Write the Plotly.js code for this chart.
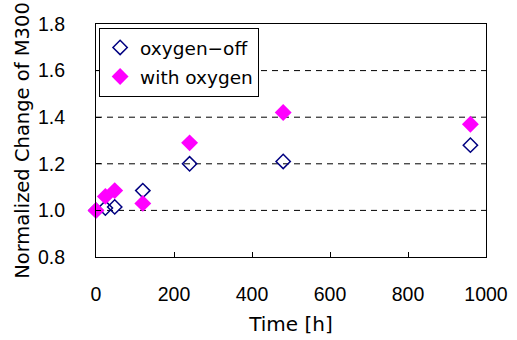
<!DOCTYPE html>
<html><head><meta charset="utf-8">
<script src="https://cdn.plot.ly/plotly-3.0.1.min.js"></script>
<style>html,body{margin:0;padding:0;background:#fff}</style>
</head><body>
<div id="chart" style="width:517px;height:340px"></div>
<script>
var timeHours = [0, 24, 48, 120, 240, 480, 960];
var oxygenOff = [1.00, 1.01, 1.015, 1.085, 1.20, 1.21, 1.28];
var withOxygen = [1.00, 1.06, 1.085, 1.03, 1.29, 1.42, 1.37];
var seriesNames = ['oxygen\u2212off', 'with oxygen'];
var xTicks = [0, 200, 400, 600, 800, 1000];
var yTicks = [0.8, 1.0, 1.2, 1.4, 1.6, 1.8];

var font = 'DejaVu Sans, sans-serif';
var tickFont = {family: 'Liberation Sans, Arial, sans-serif', size: 19.5, color: '#000'};
var traces = [
  {x: timeHours, y: oxygenOff, name: seriesNames[0], legendgroup: 'a', mode: 'markers', type: 'scatter', cliponaxis: false,
   marker: {symbol: 'diamond-open', size: 11, color: '#000080', line: {width: 1.5, color: '#000080'}}},
  {x: timeHours, y: withOxygen, name: seriesNames[1], legendgroup: 'b', mode: 'markers', type: 'scatter', cliponaxis: false,
   marker: {symbol: 'diamond', size: 13, color: '#ff00ff', line: {width: 0}}}
];
var gridShapes = [1.0, 1.2, 1.4, 1.6].map(function(v){
  return {type:'line', xref:'paper', x0:0, x1:1, yref:'y', y0:v, y1:v, layer:'below',
          line:{color:'#000', width:1, dash:'6px,5px'}};
});
var layout = {
  width: 517, height: 340,
  margin: {l: 96, r: 31, t: 24, b: 83},
  paper_bgcolor: '#fff', plot_bgcolor: '#fff',
  font: {family: font, size: 19, color: '#000'},
  showlegend: true,
  legend: {x: 0.008, y: 0.983, xanchor: 'left', yanchor: 'top', bgcolor: '#fff',
           bordercolor: '#000', borderwidth: 1, font: {size: 18.5}, itemwidth: 30,
           traceorder: 'grouped', tracegroupgap: 2},
  xaxis: {range: [0, 1000], tickvals: xTicks, ticktext: xTicks.map(String), showgrid: false, zeroline: false,
          showline: true, mirror: true, linecolor: '#000', linewidth: 1,
          ticks: 'inside', ticklen: 5, tickcolor: '#000', ticklabelstandoff: 20,
          tickfont: tickFont,
          title: {text: 'Time [h]', font: {size: 20}, standoff: 12}},
  yaxis: {range: [0.8, 1.8], tickvals: yTicks, ticktext: yTicks.map(function(v){return v.toFixed(1);}),
          showgrid: false, zeroline: false, showline: true, mirror: true, linecolor: '#000', linewidth: 1,
          ticks: 'inside', ticklen: 5, tickcolor: '#000', ticklabelstandoff: 26,
          tickfont: tickFont,
          title: {text: 'Normalized Change of M300', font: {size: 19.5}, standoff: 3}},
  shapes: gridShapes
};
Plotly.newPlot('chart', traces, layout, {displayModeBar: false, staticPlot: true});
</script>
</body></html>
